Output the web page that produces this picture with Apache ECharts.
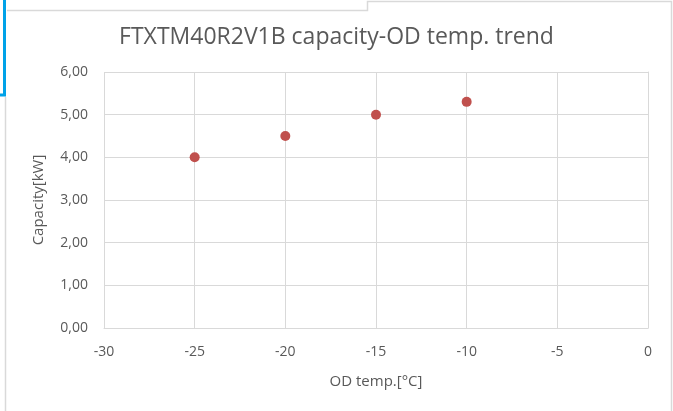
<!DOCTYPE html>
<html>
<head>
<meta charset="utf-8">
<script src="https://cdn.jsdelivr.net/npm/echarts@6/dist/echarts.min.js"></script>
<style>
  html, body { margin: 0; padding: 0; background: #fff; }
  #main { width: 673px; height: 411px; }
</style>
</head>
<body>
<div id="main"></div>
<script>
var titleText = 'FTXTM40R2V1B capacity-OD temp. trend';
var odTemp = [-25, -20, -15, -10];
var capacity = [4.0, 4.5, 5.0, 5.3];

var points = odTemp.map(function (t, i) { return [t, capacity[i]]; });

var myChart = echarts.init(document.getElementById('main'));
var font = '"Open Sans", "Noto Sans", sans-serif';
var gridColor = '#d9d9d9';

var option = {
    backgroundColor: '#fff',
    animation: false,
    title: {
        text: titleText,
        left: 'center',
        top: 21,
        textStyle: { fontFamily: font, fontSize: 23, fontWeight: 'normal', color: '#595959' }
    },
    grid: { left: 104, right: 25, top: 72, bottom: 83 },
    xAxis: {
        type: 'value',
        min: -30, max: 0, interval: 5,
        name: 'OD temp.[°C]',
        nameLocation: 'middle',
        nameGap: 46,
        nameTextStyle: { fontFamily: font, fontSize: 15, color: '#595959' },
        axisLine: { show: true, lineStyle: { color: gridColor } },
        axisTick: { show: false },
        axisLabel: { fontFamily: font, fontSize: 14, color: '#595959', margin: 17 },
        splitLine: { show: true, lineStyle: { color: gridColor } }
    },
    yAxis: {
        type: 'value',
        min: 0, max: 6, interval: 1,
        name: 'Capacity[kW]',
        nameLocation: 'middle',
        nameGap: 58,
        nameTextStyle: { fontFamily: font, fontSize: 15, color: '#595959' },
        axisLine: { show: true, lineStyle: { color: gridColor } },
        axisTick: { show: false },
        axisLabel: {
            fontFamily: font, fontSize: 14, color: '#595959', margin: 16,
            formatter: function (v) { return v.toFixed(2).replace('.', ','); }
        },
        splitLine: { show: true, lineStyle: { color: gridColor } }
    },
    series: [{
        type: 'scatter',
        data: points,
        symbolSize: 10,
        itemStyle: { color: '#c0504d', opacity: 1 }
    }],
    graphic: [
        {
            type: 'polyline', silent: true,
            shape: { points: [[7, 10.5], [367.5, 10.5], [367.5, 1.5], [671.5, 1.5], [671.5, 411]] },
            style: { stroke: gridColor, lineWidth: 1.5, fill: null }
        },
        {
            type: 'line', silent: true,
            shape: { x1: 5.5, y1: 97, x2: 5.5, y2: 411 },
            style: { stroke: gridColor, lineWidth: 1.5 }
        },
        {
            type: 'rect', silent: true,
            shape: { x: -10, y: -10, width: 14.5, height: 105 },
            style: { stroke: '#00a2e8', lineWidth: 3, fill: null }
        }
    ]
};
myChart.setOption(option);
</script>
</body>
</html>
